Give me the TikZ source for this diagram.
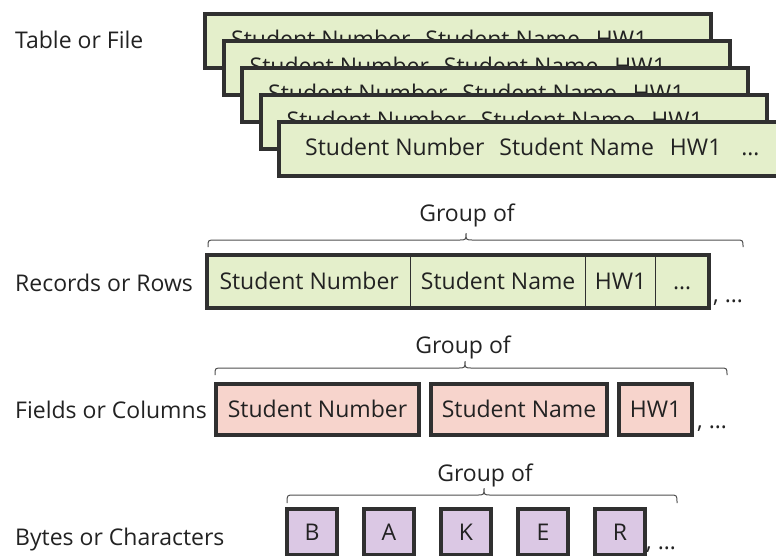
\documentclass[tikz,border=0pt]{standalone}
\usepackage{fontspec}
\setmainfont{Open Sans}
\usetikzlibrary{calc}
\definecolor{recgreen}{HTML}{E4EFCB}
\definecolor{fieldpink}{HTML}{F7D4CC}
\definecolor{bytelilac}{HTML}{DBC8E4}
\definecolor{edge}{HTML}{303030}
\definecolor{ink}{HTML}{222222}
\begin{document}
\begin{tikzpicture}[x=1pt,y=-1pt,
  font=\fontsize{23}{27}\selectfont, text=ink,
  lbl/.style={anchor=base west, inner sep=0pt},
  grp/.style={anchor=base, inner sep=0pt},
  heavy/.style={draw=edge, line width=4pt},
  boxtext/.style={text height=16pt, text depth=0pt},
  filebox/.style={heavy, fill=recgreen, anchor=north west, inner sep=0pt,
    minimum width=506pt, minimum height=54pt},
  filetext/.style={anchor=base west, inner sep=0pt},
  cell/.style={boxtext, draw=edge, line width=1.3pt, fill=recgreen,
    anchor=north west, inner sep=0pt, minimum height=52pt},
  fieldbox/.style={boxtext, heavy, fill=fieldpink, anchor=north west,
    inner sep=0pt, minimum height=51pt},
  bytebox/.style={boxtext, heavy, fill=bytelilac, anchor=north west,
    inner sep=0pt, minimum width=50pt, minimum height=46pt},
  bracepath/.style={draw=edge!85, line width=1pt}
]
\useasboundingbox (0,0) rectangle (776,555);

% ---------- left-hand labels ----------
\node[lbl] (lTable)  at (15,48)  {Table or File};
\node[lbl] (lRec)    at (15,291) {Records or Rows};
\node[lbl] (lField)  at (15,418) {Fields or Columns};
\node[lbl] (lByte)   at (15,545) {Bytes or Characters};

% ---------- stacked table records ----------
\foreach \k in {0,...,4} {
  \pgfmathsetmacro{\bx}{203+18.5*\k}
  \pgfmathsetmacro{\by}{12+27*\k}
  \node[filebox] (file\k) at (\bx,\by) {};
  \node[filetext] (filet\k) at ($(\bx,\by)+(28,35)$)
    {Student Number\hspace{9pt} Student Name\hspace{10pt} HW1\hspace{14pt} …};
}

% ---------- one record ----------
\node[grp] (gRec) at (467,221) {Group of};
\draw[bracepath] (208,247) .. controls (208,240) .. (215,240) -- (459,240)
  .. controls (466,240) .. (466,233) .. controls (466,240) .. (473,240)
  -- (736,240) .. controls (743,240) .. (743,247);
\node[cell, minimum width=203pt] (c1) at (207,255) {Student Number};
\node[cell, minimum width=175pt] (c2) at (410,255) {Student Name};
\node[cell, minimum width=70pt]  (c3) at (585,255) {HW1};
\node[cell, minimum width=53pt]  (c4) at (655,255) {…};
\draw[heavy] (c1.north west) rectangle (c4.south east);
\node[lbl] (mRec) at (713,302) {, …};

% ---------- fields ----------
\node[grp] (gField) at (463,353) {Group of};
\draw[bracepath] (215,375) .. controls (215,368) .. (222,368) -- (458,368)
  .. controls (465,368) .. (465,361) .. controls (465,368) .. (472,368)
  -- (720,368) .. controls (727,368) .. (727,375);
\node[fieldbox, minimum width=203pt] (f1) at (214,382) {Student Number};
\node[fieldbox, minimum width=176pt] (f2) at (429,382) {Student Name};
\node[fieldbox, minimum width=73pt]  (f3) at (617,382) {HW1};
\node[lbl] (mField) at (697,428) {, …};

% ---------- bytes ----------
\node[grp] (gByte) at (485,481) {Group of};
\draw[bracepath] (287,503) .. controls (287,495) .. (294,495) -- (477,495)
  .. controls (484,495) .. (484,488) .. controls (484,495) .. (491,495)
  -- (670,495) .. controls (677,495) .. (677,503);
\foreach \ch [count=\i from 0] in {B,A,K,E,R} {
  \node[bytebox] (b\i) at (285+77*\i,507) {\ch};
}
\node[lbl] (mByte) at (646,549) {, …};
\end{tikzpicture}
\end{document}
